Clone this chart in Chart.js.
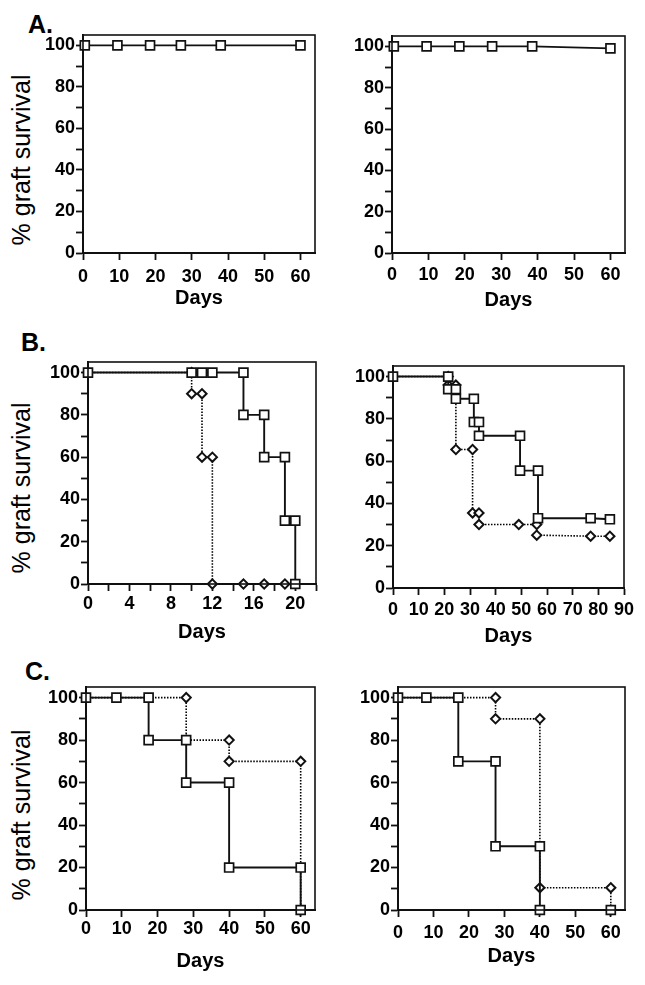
<!DOCTYPE html>
<html>
<head>
<meta charset="utf-8">
<script src="https://cdn.jsdelivr.net/npm/chart.js@4.4.1/dist/chart.umd.min.js"></script>
<style>
  body { margin: 0; background: #fff; width: 645px; height: 985px; position: relative; overflow: hidden;
         font-family: 'Liberation Sans', Arial, Helvetica, sans-serif; color: #000; }
  canvas { position: absolute; }
  .letter { position: absolute; font-weight: bold; font-size: 25px; line-height: 1; }
  .ytitle { position: absolute; font-size: 25px; line-height: 1; white-space: nowrap;
            transform: translate(-50%, -50%) rotate(-90deg); }
</style>
</head>
<body>
<div class="letter" style="left:28px;top:12px">A.</div>
<div class="letter" style="left:21px;top:330px">B.</div>
<div class="letter" style="left:25px;top:659px">C.</div>
<div class="ytitle" style="left:21px;top:160px">% graft survival</div>
<div class="ytitle" style="left:21px;top:488px">% graft survival</div>
<div class="ytitle" style="left:21px;top:815px">% graft survival</div>
<script>
// tick values and labels
const yTicks = [0, 10, 20, 30, 40, 50, 60, 70, 80, 90, 100];
const yLabels = ["0", "", "20", "", "40", "", "60", "", "80", "", "100"];
const xTicks60 = [0, 10, 20, 30, 40, 50, 60];
const xLabels60 = ["0", "10", "20", "30", "40", "50", "60"];
const xTicks22 = [0, 2, 4, 6, 8, 10, 12, 14, 16, 18, 20, 22];
const xLabels22 = ["0", "", "4", "", "8", "", "12", "", "16", "", "20", ""];
const xTicks90 = [0, 10, 20, 30, 40, 50, 60, 70, 80, 90];
const xLabels90 = ["0", "10", "20", "30", "40", "50", "60", "70", "80", "90"];

// A, left
const aLeftDays = [0.5, 9.5, 18.5, 27, 38, 60];
const aLeftPct = [100, 100, 100, 100, 100, 100];
// A, right
const aRightDays = [0.5, 9.5, 18.5, 27.5, 38.5, 60];
const aRightPct = [100, 100, 100, 100, 100, 99];

// B, left
const bLeftSqDays = [0, 10, 11, 12, 15, 15, 17, 17, 19, 19, 20, 20];
const bLeftSqPct = [100, 100, 100, 100, 100, 80, 80, 60, 60, 30, 30, 0];
const bLeftDiDays = [0, 10, 10, 11, 11, 12, 12, 15, 17, 19];
const bLeftDiPct = [100, 100, 90, 90, 60, 60, 0, 0, 0, 0];
// B, right
const bRightSqDays = [0, 21.5, 21.5, 24.5, 24.5, 31.5, 31.5, 33.5, 33.5, 49.5, 49.5, 56.5, 56.5, 77, 84.5];
const bRightSqPct = [100, 100, 94, 94, 89.5, 89.5, 78.5, 78.5, 72, 72, 55.5, 55.5, 33, 33, 32.5];
const bRightDiDays = [0, 21.5, 21.5, 24.5, 24.5, 31, 31, 33.5, 33.5, 49, 56, 56, 77, 84.5];
const bRightDiPct = [100, 100, 96, 96, 65.5, 65.5, 35.5, 35.5, 30, 30, 30, 25, 24.5, 24.5];

// C, left
const cLeftSqDays = [0, 8.5, 17.5, 17.5, 28, 28, 40, 40, 60, 60];
const cLeftSqPct = [100, 100, 100, 80, 80, 60, 60, 20, 20, 0];
const cLeftDiDays = [0, 28, 28, 40, 40, 60, 60];
const cLeftDiPct = [100, 100, 80, 80, 70, 70, 0];
// C, right
const cRightSqDays = [0, 8, 17, 17, 27.5, 27.5, 40, 40, 60];
const cRightSqPct = [100, 100, 100, 70, 70, 30, 30, 0, 0];
const cRightDiDays = [0, 27.5, 27.5, 40, 40, 60, 60];
const cRightDiPct = [100, 100, 90, 90, 10.5, 10.5, 0];

Chart.defaults.font.family = "'Liberation Sans', Arial, Helvetica, sans-serif";
Chart.defaults.color = "#000";

const ink = "#111";
const Y_W = 60, X_H = 70, PAD_T = 15, PAD_R = 20;

function points(xs, ys) {
  return xs.map((x, i) => ({ x: x, y: ys[i] }));
}

function squares(xs, ys) {
  return {
    data: points(xs, ys),
    showLine: true,
    borderColor: ink,
    borderWidth: 1.9,
    pointStyle: "rect",
    pointRadius: 6.3,
    pointBorderWidth: 1.7,
    pointBorderColor: ink,
    pointBackgroundColor: "#fff",
    clip: false,
  };
}

function diamonds(xs, ys) {
  return {
    data: points(xs, ys),
    showLine: true,
    borderColor: "#000",
    borderWidth: 1.6,
    borderDash: [1.5, 1.5],
    pointStyle: "rectRot",
    pointRadius: 4.6,
    pointBorderWidth: 2,
    pointBorderColor: ink,
    pointBackgroundColor: "#fff",
    clip: false,
  };
}

const frame = {
  id: "frame",
  afterDraw(chart) {
    const { ctx, chartArea: a } = chart;
    ctx.save();
    ctx.strokeStyle = ink;
    ctx.lineWidth = 1.6;
    ctx.strokeRect(a.left, a.top, a.right - a.left, a.bottom - a.top);
    ctx.restore();
  },
};

function makePanel(box, datasets, xTicks, xLabels, xMax) {
  const cv = document.createElement("canvas");
  const w = box.right - box.left + Y_W + PAD_R;
  const h = box.bottom - box.top + PAD_T + X_H;
  cv.width = w;
  cv.height = h;
  cv.style.width = w + "px";
  cv.style.height = h + "px";
  cv.style.left = box.left - Y_W + "px";
  cv.style.top = box.top - PAD_T + "px";
  document.body.appendChild(cv);

  new Chart(cv, {
    type: "scatter",
    data: { datasets: datasets },
    plugins: [frame],
    options: {
      responsive: false,
      animation: false,
      events: [],
      layout: { padding: { left: 0, top: PAD_T, right: PAD_R, bottom: 0 } },
      plugins: { legend: { display: false }, tooltip: { enabled: false } },
      scales: {
        x: {
          type: "linear",
          min: 0,
          max: xMax,
          afterFit: (s) => { s.height = X_H; },
          afterBuildTicks: (s) => { s.ticks = xTicks.map((v) => ({ value: v })); },
          grid: { display: true, drawOnChartArea: false, drawTicks: true, tickLength: 7, tickWidth: 1.8, tickColor: ink },
          border: { display: true, color: ink, width: 2 },
          ticks: {
            autoSkip: false,
            maxRotation: 0,
            padding: box.tickPad,
            font: { size: 18, weight: "bold" },
            callback: (v, i) => xLabels[i],
          },
          title: {
            display: true,
            text: "Days",
            font: { size: 20, weight: "bold" },
            padding: { top: 0, bottom: 58 - box.daysOff },
          },
        },
        y: {
          type: "linear",
          min: 0,
          max: 105,
          afterFit: (s) => { s.width = Y_W; },
          afterBuildTicks: (s) => { s.ticks = yTicks.map((v) => ({ value: v })); },
          grid: { display: true, drawOnChartArea: false, drawTicks: true, tickLength: 7, tickWidth: 1.8, tickColor: ink },
          border: { display: true, color: ink, width: 2 },
          ticks: {
            autoSkip: false,
            padding: 1,
            font: { size: 18, weight: "bold" },
            callback: (v, i) => yLabels[i],
          },
        },
      },
    },
  });
}

makePanel({ left: 83, right: 315, top: 35, bottom: 253, tickPad: 6, daysOff: 45 },
  [squares(aLeftDays, aLeftPct)], xTicks60, xLabels60, 64);
makePanel({ left: 392, right: 625, top: 36, bottom: 253, tickPad: 4, daysOff: 47 },
  [squares(aRightDays, aRightPct)], xTicks60, xLabels60, 64);
makePanel({ left: 88, right: 316, top: 362, bottom: 584, tickPad: 2, daysOff: 48 },
  [squares(bLeftSqDays, bLeftSqPct), diamonds(bLeftDiDays, bLeftDiPct)], xTicks22, xLabels22, 22);
makePanel({ left: 393, right: 624, top: 366, bottom: 588, tickPad: 4, daysOff: 48 },
  [squares(bRightSqDays, bRightSqPct), diamonds(bRightDiDays, bRightDiPct)], xTicks90, xLabels90, 90);
makePanel({ left: 86, right: 315, top: 687, bottom: 910, tickPad: 1, daysOff: 51 },
  [squares(cLeftSqDays, cLeftSqPct), diamonds(cLeftDiDays, cLeftDiPct)], xTicks60, xLabels60, 64);
makePanel({ left: 398, right: 625, top: 687, bottom: 910, tickPad: 5, daysOff: 46 },
  [squares(cRightSqDays, cRightSqPct), diamonds(cRightDiDays, cRightDiPct)], xTicks60, xLabels60, 64);
</script>
</body>
</html>
